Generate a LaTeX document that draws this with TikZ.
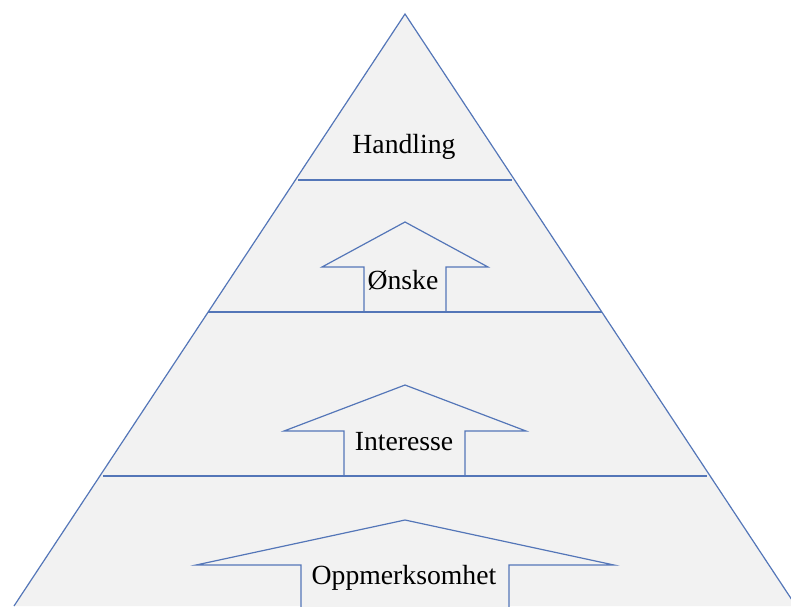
\documentclass[tikz,border=0pt]{standalone}
\usepackage{fontspec}
\setmainfont{Liberation Serif}
\definecolor{edgeblue}{RGB}{84,118,184}
\definecolor{pyrgray}{RGB}{242,242,242}
\tikzset{
  layer/.style={draw=edgeblue, line width=1.2pt},
  uparrow/.style={draw=edgeblue, fill=pyrgray, line width=1.2pt, line join=miter},
  label/.style={font=\fontsize{27.7}{33}\selectfont, text=black, inner sep=0pt}
}
\begin{document}
\begin{tikzpicture}[x=1pt,y=-1pt]
\useasboundingbox (0,0) rectangle (791,606);
\clip (0,0) rectangle (791,606);
% pyramid
\coordinate (apex) at (405,14);
\coordinate (bl) at (14,606);
\coordinate (br) at (796,606);
\fill[pyrgray] (apex) -- (bl) -- (br) -- cycle;
\draw[layer] (bl) -- (apex) -- (br);
% arrows
\draw[uparrow] (364,312) -- (364,267) -- (322,267) -- (405,222) -- (488,267) -- (446,267) -- (446,312);
\draw[uparrow] (344,476) -- (344,431) -- (284,431) -- (405,385) -- (526,431) -- (465,431) -- (465,476);
\draw[uparrow] (301,607) -- (301,565) -- (196,565) -- (405,520) -- (614,565) -- (509,565) -- (509,607);
% layer separators
\draw[layer] (298,180) -- (512,180);
\draw[layer] (208,312) -- (602,312);
\draw[layer] (103,476) -- (707,476);
% labels
\node[label] (handling) at (404,147) {Handling};
\node[label] (onske) at (403,280) {Ønske};
\node[label] (interesse) at (404,442) {Interesse};
\node[label] (oppm) at (404,578) {Oppmerksomhet};
\end{tikzpicture}
\end{document}
